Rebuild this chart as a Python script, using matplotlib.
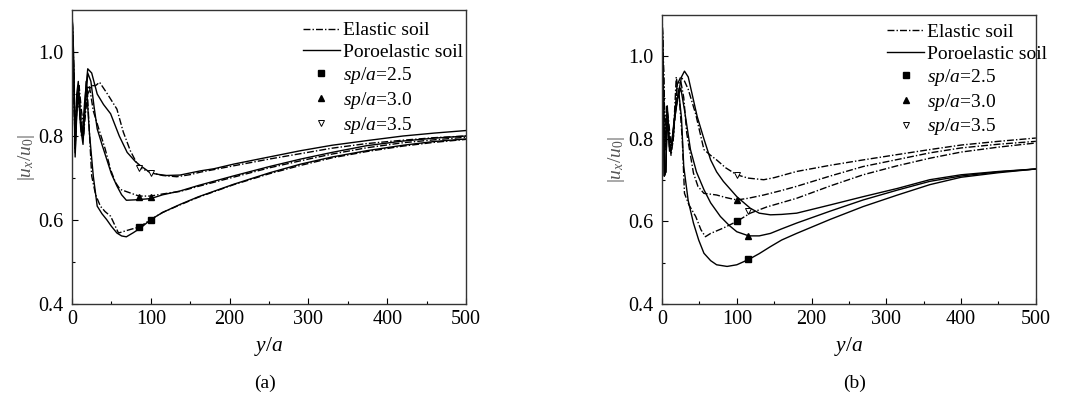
"""Amplitud normalizada |ux/u0| a lo largo de y/a para suelo elastico y
poroelastico, con tres separaciones sp/a. Dos paneles: (a) y (b)."""

import matplotlib.pyplot as plt

plt.rcParams["font.family"] = ["Liberation Serif", "DejaVu Serif"]
plt.rcParams["mathtext.fontset"] = "custom"
plt.rcParams["mathtext.rm"] = "Liberation Serif"
plt.rcParams["mathtext.it"] = "Liberation Serif:italic"

SEPARACIONES: list[str] = ["2.5", "3.0", "3.5"]

# ---------------- panel (a) ----------------
A_ELAS_25_X = [0, 2, 4, 6, 9, 12, 15, 19, 25, 30, 36, 42, 49, 55, 59, 66, 75, 85, 100, 115,
               137, 160, 205, 250, 290, 330, 374, 420, 460, 500]
A_ELAS_25_Y = [1.1, 0.95, 0.78, 0.86, 0.88, 0.80, 0.82, 0.92, 0.705, 0.66, 0.633, 0.62, 0.609,
               0.585, 0.569, 0.573, 0.578, 0.583, 0.601, 0.618, 0.636, 0.654, 0.684, 0.71,
               0.73, 0.748, 0.763, 0.776, 0.785, 0.792]
A_ELAS_30_X = [0, 2, 4, 6, 9, 12, 15, 18, 22, 27, 34, 42, 49, 55, 61, 70, 85, 100, 115, 137,
               160, 205, 250, 290, 330, 374, 420, 460, 500]
A_ELAS_30_Y = [1.1, 0.95, 0.77, 0.87, 0.90, 0.83, 0.80, 0.90, 0.92, 0.86, 0.817, 0.77, 0.72,
               0.69, 0.673, 0.667, 0.657, 0.657, 0.662, 0.668, 0.68, 0.702, 0.724, 0.741,
               0.757, 0.772, 0.784, 0.791, 0.797]
A_ELAS_35_X = [0, 2, 4, 6, 9, 12, 15, 20, 25, 30, 35, 45, 57, 65, 74, 85, 100, 115, 133, 150,
               163, 180, 205, 250, 290, 330, 374, 420, 460, 500]
A_ELAS_35_Y = [1.1, 0.98, 0.80, 0.88, 0.92, 0.86, 0.82, 0.90, 0.92, 0.92, 0.928, 0.90, 0.864,
               0.81, 0.765, 0.725, 0.713, 0.706, 0.703, 0.708, 0.714, 0.72, 0.729, 0.745,
               0.758, 0.771, 0.782, 0.79, 0.796, 0.80]
A_PORO_25_X = [0, 2, 4, 6, 8, 11, 14, 18, 22, 27, 32, 38, 44, 50, 57, 63, 69, 78, 87, 100, 115,
               137, 160, 205, 250, 290, 330, 374, 420, 460, 500]
A_PORO_25_Y = [1.1, 0.96, 0.75, 0.85, 0.91, 0.82, 0.78, 0.93, 0.81, 0.705, 0.633, 0.615, 0.601,
               0.585, 0.569, 0.562, 0.56, 0.57, 0.581, 0.601, 0.618, 0.637, 0.655, 0.685,
               0.712, 0.733, 0.75, 0.765, 0.778, 0.787, 0.793]
A_PORO_30_X = [0, 2, 4, 6, 8, 11, 14, 17, 20, 24, 28, 32, 38, 44, 50, 57, 63, 69, 80, 87, 100,
               115, 137, 160, 205, 250, 290, 330, 374, 420, 460, 500]
A_PORO_30_Y = [1.1, 0.97, 0.76, 0.86, 0.92, 0.84, 0.80, 0.87, 0.95, 0.93, 0.87, 0.817, 0.78,
               0.745, 0.71, 0.681, 0.66, 0.647, 0.648, 0.649, 0.651, 0.66, 0.669, 0.682,
               0.705, 0.727, 0.745, 0.761, 0.777, 0.788, 0.795, 0.800]
A_PORO_35_X = [0, 2, 4, 6, 8, 10, 13, 16, 20, 25, 32, 40, 49, 60, 70, 80, 87, 100, 108, 120,
               137, 150, 163, 180, 205, 250, 290, 330, 374, 420, 460, 500]
A_PORO_35_Y = [1.1, 1.0, 0.78, 0.90, 0.93, 0.85, 0.80, 0.88, 0.96, 0.95, 0.90, 0.875, 0.853,
               0.80, 0.761, 0.74, 0.729, 0.712, 0.709, 0.706, 0.707, 0.712, 0.717, 0.722,
               0.733, 0.750, 0.765, 0.778, 0.789, 0.800, 0.807, 0.813]

# marcadores sobre las curvas (a)
A_MARK_X = {"2.5": [85, 100], "3.0": [85, 100], "3.5": [85, 100]}
A_MARK_Y = {"2.5": [0.583, 0.601], "3.0": [0.655, 0.655], "3.5": [0.725, 0.713]}

# ---------------- panel (b) ----------------
B_ELAS_25_X = [0, 2, 4, 6, 9, 12, 15, 19, 23, 27, 30, 36, 45, 52, 58, 65, 82, 100, 118, 140,
               180, 225, 269, 315, 358, 400, 450, 500]
B_ELAS_25_Y = [1.1, 0.95, 0.77, 0.85, 0.83, 0.76, 0.80, 0.95, 0.90, 0.80, 0.668, 0.64, 0.612,
               0.58, 0.563, 0.571, 0.584, 0.600, 0.620, 0.635, 0.656, 0.686, 0.713, 0.735,
               0.753, 0.768, 0.78, 0.79]
B_ELAS_30_X = [0, 2, 4, 6, 9, 12, 15, 20, 25, 29, 33, 38, 42, 48, 56, 65, 73, 85, 100, 115,
               136, 160, 180, 225, 269, 315, 358, 400, 450, 500]
B_ELAS_30_Y = [1.1, 0.96, 0.78, 0.86, 0.82, 0.77, 0.80, 0.93, 0.94, 0.90, 0.814, 0.76, 0.717,
               0.685, 0.668, 0.666, 0.664, 0.658, 0.652, 0.656, 0.664, 0.675, 0.685, 0.71,
               0.733, 0.75, 0.766, 0.778, 0.787, 0.794]
B_ELAS_35_X = [0, 2, 4, 6, 9, 12, 15, 20, 25, 30, 35, 45, 56, 65, 73, 85, 100, 115, 136, 150,
               180, 225, 269, 315, 358, 400, 450, 500]
B_ELAS_35_Y = [1.1, 0.98, 0.80, 0.88, 0.84, 0.78, 0.80, 0.93, 0.95, 0.94, 0.92, 0.86, 0.774,
               0.76, 0.749, 0.73, 0.713, 0.705, 0.701, 0.706, 0.721, 0.736, 0.749, 0.762,
               0.774, 0.785, 0.794, 0.802]
B_PORO_25_X = [0, 2, 3, 5, 7, 10, 13, 17, 22, 26, 29, 35, 42, 49, 56, 65, 73, 87, 100, 116,
               130, 145, 160, 180, 225, 269, 315, 358, 400, 450, 500]
B_PORO_25_Y = [1.1, 0.90, 0.71, 0.72, 0.86, 0.77, 0.79, 0.85, 0.919, 0.85, 0.733, 0.65, 0.596,
               0.555, 0.523, 0.505, 0.495, 0.491, 0.495, 0.508, 0.522, 0.539, 0.555, 0.571,
               0.605, 0.636, 0.664, 0.689, 0.707, 0.718, 0.727]
B_PORO_30_X = [0, 2, 3, 5, 7, 10, 13, 17, 21, 25, 30, 38, 46, 56, 65, 78, 90, 100, 116, 130,
               145, 160, 180, 225, 269, 315, 358, 400, 450, 500]
B_PORO_30_Y = [1.1, 0.90, 0.71, 0.72, 0.87, 0.78, 0.79, 0.85, 0.90, 0.923, 0.87, 0.774, 0.72,
               0.677, 0.645, 0.612, 0.59, 0.575, 0.565, 0.565, 0.571, 0.582, 0.596, 0.625,
               0.652, 0.676, 0.697, 0.71, 0.72, 0.727]
B_PORO_35_X = [0, 2, 3, 5, 7, 10, 13, 17, 22, 26, 30, 35, 40, 47, 56, 65, 73, 82, 100, 118,
               130, 145, 160, 180, 225, 269, 315, 358, 400, 450, 500]
B_PORO_35_Y = [1.1, 0.90, 0.71, 0.72, 0.88, 0.78, 0.79, 0.86, 0.91, 0.95, 0.964, 0.95, 0.91,
               0.854, 0.80, 0.749, 0.72, 0.697, 0.66, 0.632, 0.62, 0.616, 0.617, 0.620, 0.64,
               0.66, 0.68, 0.701, 0.713, 0.721, 0.727]

# marcadores sobre las curvas (b): primero elastico, luego poroelastico
B_MARK_X = {"2.5": [100, 115], "3.0": [100, 115], "3.5": [100, 115]}
B_MARK_Y = {"2.5": [0.600, 0.508], "3.0": [0.652, 0.565], "3.5": [0.713, 0.625]}

MARCADORES = {
    "2.5": dict(marker="s", mfc="black", mec="black", ms=4.5),
    "3.0": dict(marker="^", mfc="black", mec="black", ms=5),
    "3.5": dict(marker="v", mfc="white", mec="black", ms=5, mew=0.7),
}
ESTILO_ELAS = dict(color="black", lw=1.0, linestyle=(0, (5, 1.5, 1, 1.5)))
ESTILO_PORO = dict(color="black", lw=1.0, linestyle="-")


def dibujar_panel(ax, elasticas, poroelasticas, marcas_x, marcas_y, pos_leyenda) -> None:
    for x, y in elasticas:
        ax.plot(x, y, **ESTILO_ELAS)
    for x, y in poroelasticas:
        ax.plot(x, y, **ESTILO_PORO)
    for sp in SEPARACIONES:
        ax.plot(marcas_x[sp], marcas_y[sp], linestyle="none", **MARCADORES[sp])

    ax.set_xlim(0, 500)
    ax.set_ylim(0.4, 1.1)
    ax.set_xticks([0, 100, 200, 300, 400, 500])
    ax.set_xticks(range(50, 500, 100), minor=True)
    ax.set_yticks([0.4, 0.6, 0.8, 1.0])
    ax.set_yticks([0.5, 0.7, 0.9], minor=True)
    ax.tick_params(which="both", direction="in", labelsize=14.5, top=False, right=False)
    ax.tick_params(which="major", length=4, width=0.8)
    ax.tick_params(which="minor", length=2.5, width=0.8)
    ax.tick_params(axis="y", pad=6)
    ax.tick_params(axis="x", pad=4)
    for spine in ax.spines.values():
        spine.set_linewidth(1.0)
        spine.set_color("#333333")

    ax.set_xlabel(r"$y/a$", fontsize=15.5, labelpad=5)
    ax.set_ylabel(r"$|u_x/u_0|$", fontsize=14, color="#555555", labelpad=1)

    # leyenda
    handles = [
        plt.Line2D([], [], **ESTILO_ELAS),
        plt.Line2D([], [], **ESTILO_PORO),
    ] + [plt.Line2D([], [], linestyle="none", **MARCADORES[sp]) for sp in SEPARACIONES]
    etiquetas = ["Elastic soil", "Poroelastic soil"] + [rf"$sp/a$=${sp}$" for sp in SEPARACIONES]
    ax.legend(handles, etiquetas, loc="upper left", bbox_to_anchor=pos_leyenda,
              frameon=False, fontsize=14, handlelength=1.9, handletextpad=0.15,
              labelspacing=0.2, borderaxespad=0, borderpad=0)


def main() -> None:
    fig = plt.figure(figsize=(10.68, 4.0), dpi=100)
    ax_a = fig.add_axes([0.0674, 0.24, 0.369, 0.735])
    ax_b = fig.add_axes([0.6199, 0.24, 0.350, 0.7225])

    dibujar_panel(
        ax_a,
        [(A_ELAS_25_X, A_ELAS_25_Y), (A_ELAS_30_X, A_ELAS_30_Y), (A_ELAS_35_X, A_ELAS_35_Y)],
        [(A_PORO_25_X, A_PORO_25_Y), (A_PORO_30_X, A_PORO_30_Y), (A_PORO_35_X, A_PORO_35_Y)],
        A_MARK_X, A_MARK_Y, (0.586, 0.96),
    )
    dibujar_panel(
        ax_b,
        [(B_ELAS_25_X, B_ELAS_25_Y), (B_ELAS_30_X, B_ELAS_30_Y), (B_ELAS_35_X, B_ELAS_35_Y)],
        [(B_PORO_25_X, B_PORO_25_Y), (B_PORO_30_X, B_PORO_30_Y), (B_PORO_35_X, B_PORO_35_Y)],
        B_MARK_X, B_MARK_Y, (0.602, 0.97),
    )

    fig.text(0.248, 0.0425, "(a)", ha="center", va="center", fontsize=14)
    fig.text(0.800, 0.0425, "(b)", ha="center", va="center", fontsize=14)

    fig.savefig("out.png", dpi=100)


if __name__ == "__main__":
    main()
